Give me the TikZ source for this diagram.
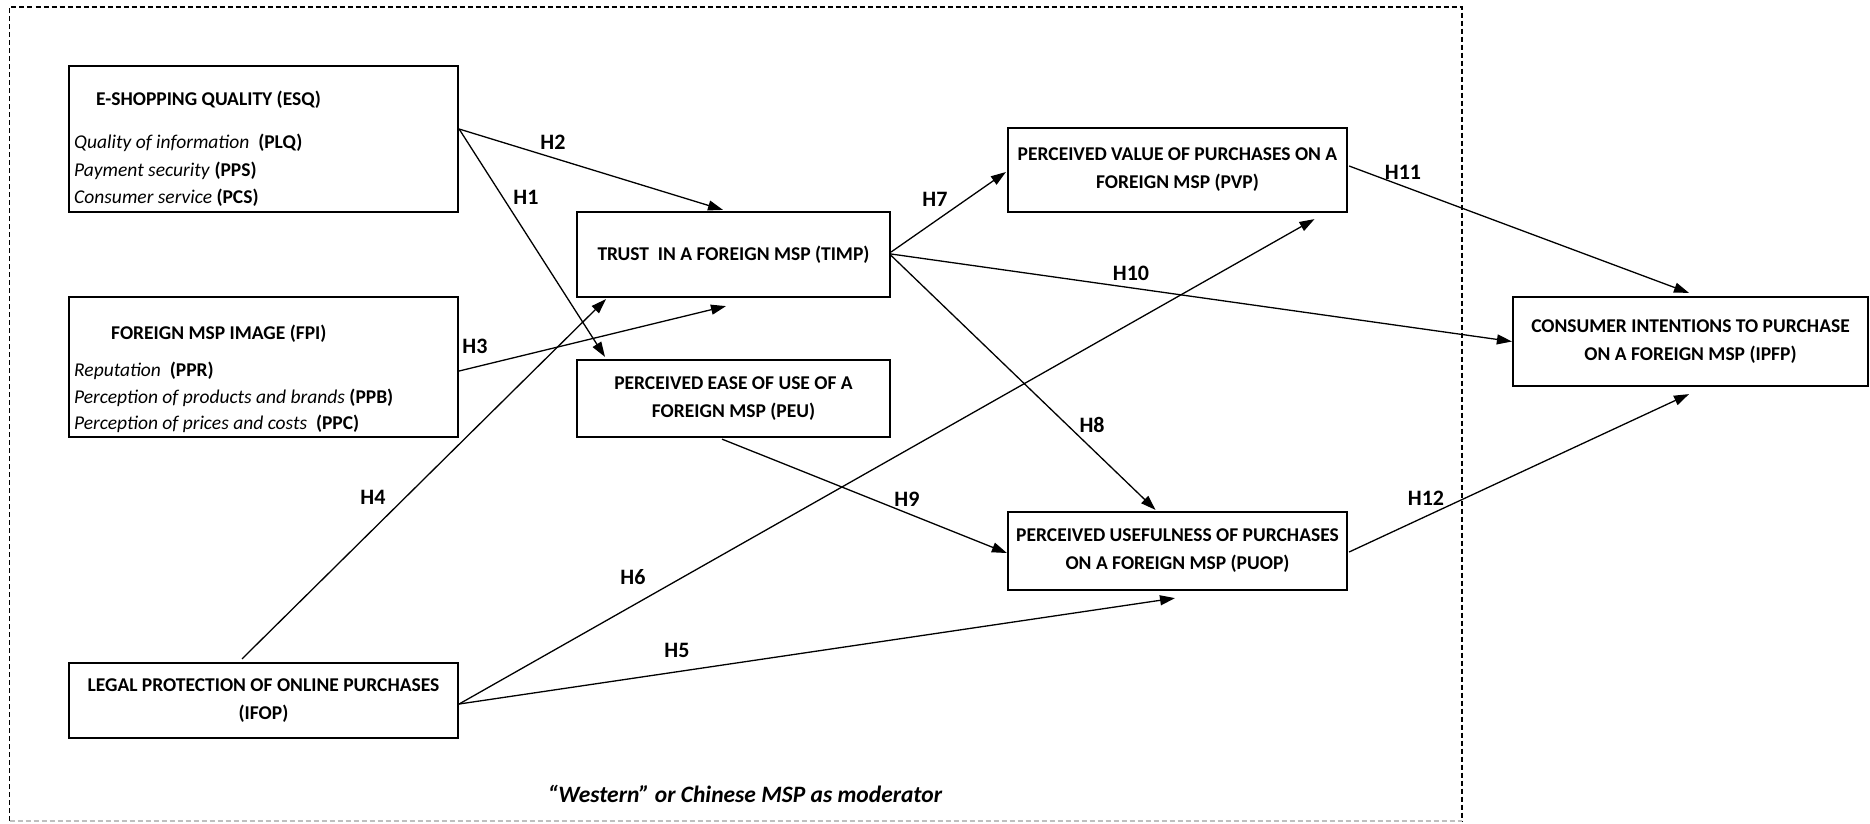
\documentclass[tikz,border=0pt]{standalone}
\usepackage{fontspec}
\setmainfont{Carlito}
\usetikzlibrary{arrows.meta,calc}
\begin{document}
\begin{tikzpicture}[x=1pt,y=-1pt,
  box/.style={draw=black,line width=2.2pt,rectangle,inner sep=0pt,align=center,font=\bfseries\fontsize{19.5}{28}\selectfont},
  conn/.style={line width=1.3pt,-{Triangle[length=15pt,width=10pt]}},
  hlab/.style={font=\bfseries\fontsize{22}{24}\selectfont,inner sep=0pt},
  itm/.style={anchor=base west,inner sep=0pt,font=\fontsize{19.5}{24}\selectfont},
  ttl/.style={anchor=base west,inner sep=0pt,font=\bfseries\fontsize{19.5}{24}\selectfont},
  border/.style={line width=1.2pt,dash pattern=on 5pt off 3pt}]
\useasboundingbox (0,0) rectangle (1870,823);
% moderator frame
\draw[border] (9.5,821) -- (9.5,7) -- (1462,7) -- (1462,821);
\draw[border,black!25] (9.5,821) -- (1462,821);
% boxes
\node[box,minimum width=389pt,minimum height=146pt] (esq) at (263.5,139) {};
\node[box,minimum width=389pt,minimum height=140pt] (fpi) at (263.5,367) {};
\node[box,minimum width=389pt,minimum height=75pt] (ifop) at (263.5,700.5) {LEGAL PROTECTION OF ONLINE PURCHASES\\(IFOP)};
\node[box,minimum width=313pt,minimum height=85pt] (trust) at (733.5,254.5) {TRUST\ \ IN A FOREIGN MSP (TIMP)};
\node[box,minimum width=313pt,minimum height=77pt] (peu) at (733.5,398.5) {PERCEIVED EASE OF USE OF A\\FOREIGN MSP (PEU)};
\node[box,minimum width=339pt,minimum height=84pt] (pvp) at (1177.5,170) {PERCEIVED VALUE OF PURCHASES ON A\\FOREIGN MSP (PVP)};
\node[box,minimum width=339pt,minimum height=78pt] (puop) at (1177.5,551) {PERCEIVED USEFULNESS OF PURCHASES\\ON A FOREIGN MSP (PUOP)};
\node[box,minimum width=355pt,minimum height=89pt] (ipfp) at (1690.5,341.5) {CONSUMER INTENTIONS TO PURCHASE\\ON A FOREIGN MSP (IPFP)};
% box contents
\node[ttl] (esqt) at (96,105.5) {E-SHOPPING QUALITY (ESQ)};
\node[itm] (esq1) at (74,148.5) {\textit{Quality of information}\ \ \textbf{(PLQ)}};
\node[itm] (esq2) at (74,176) {\textit{Payment security} \textbf{(PPS)}};
\node[itm] (esq3) at (74,203.5) {\textit{Consumer service} \textbf{(PCS)}};
\node[ttl] (fpit) at (111,339.5) {FOREIGN MSP IMAGE (FPI)};
\node[itm] (fpi1) at (74,376.5) {\textit{Reputation}\ \ \textbf{(PPR)}};
\node[itm] (fpi2) at (74,403.5) {\textit{Perception of products and brands} \textbf{(PPB)}};
\node[itm] (fpi3) at (74,429.5) {\textit{Perception of prices and costs}\ \ \textbf{(PPC)}};
% connectors
\draw[conn] ($(esq.east)+(0,-10)$) -- ($(peu.north)+(-128.5,-2)$);
\draw[conn] ($(esq.east)+(0,-10)$) -- ($(trust.north)+(-10.5,-1)$);
\draw[conn] ($(fpi.east)+(0,4)$) -- ($(trust.south)+(-7.5,8)$);
\draw[conn] ($(ifop.north)+(-21.5,-3)$) -- ($(trust.south)+(-127.5,1)$);
\draw[conn] ($(ifop.east)+(0,3.5)$) -- ($(puop.south)+(-2.5,7)$);
\draw[conn] ($(ifop.east)+(0,3.5)$) -- ($(pvp.south)+(137,6)$);
\draw[conn] ($(trust.east)+(0,-2.5)$) -- ($(pvp.west)+(-1,2)$);
\draw[conn] ($(trust.east)+(0,1)$) -- ($(puop.north)+(-22,-1)$);
\draw[conn] ($(peu.south)+(-11.5,1)$) -- ($(puop.west)+(0,2)$);
\draw[conn] ($(trust.east)+(0,-0.5)$) -- (ipfp.west);
\draw[conn] ($(pvp.east)+(1,-4)$) -- ($(ipfp.north)+(-1.5,-3)$);
\draw[conn] ($(puop.east)+(1,1)$) -- ($(ipfp.south)+(-1.5,7)$);
% hypothesis labels
\node[hlab] (h1) at (526,197) {H1};
\node[hlab] (h2) at (553,142) {H2};
\node[hlab] (h3) at (475,346) {H3};
\node[hlab] (h4) at (373,497) {H4};
\node[hlab] (h5) at (677,650) {H5};
\node[hlab] (h6) at (633,577) {H6};
\node[hlab] (h7) at (935,199) {H7};
\node[hlab] (h8) at (1092,425) {H8};
\node[hlab] (h9) at (907,499) {H9};
\node[hlab] (h10) at (1131,273) {H10};
\node[hlab] (h11) at (1403,172) {H11};
\node[hlab] (h12) at (1426,498) {H12};
% moderator caption
\node[font=\bfseries\itshape\fontsize{23.5}{26}\selectfont,inner sep=0pt] (mod) at (745,794) {“Western” or Chinese MSP as moderator};
\end{tikzpicture}
\end{document}
